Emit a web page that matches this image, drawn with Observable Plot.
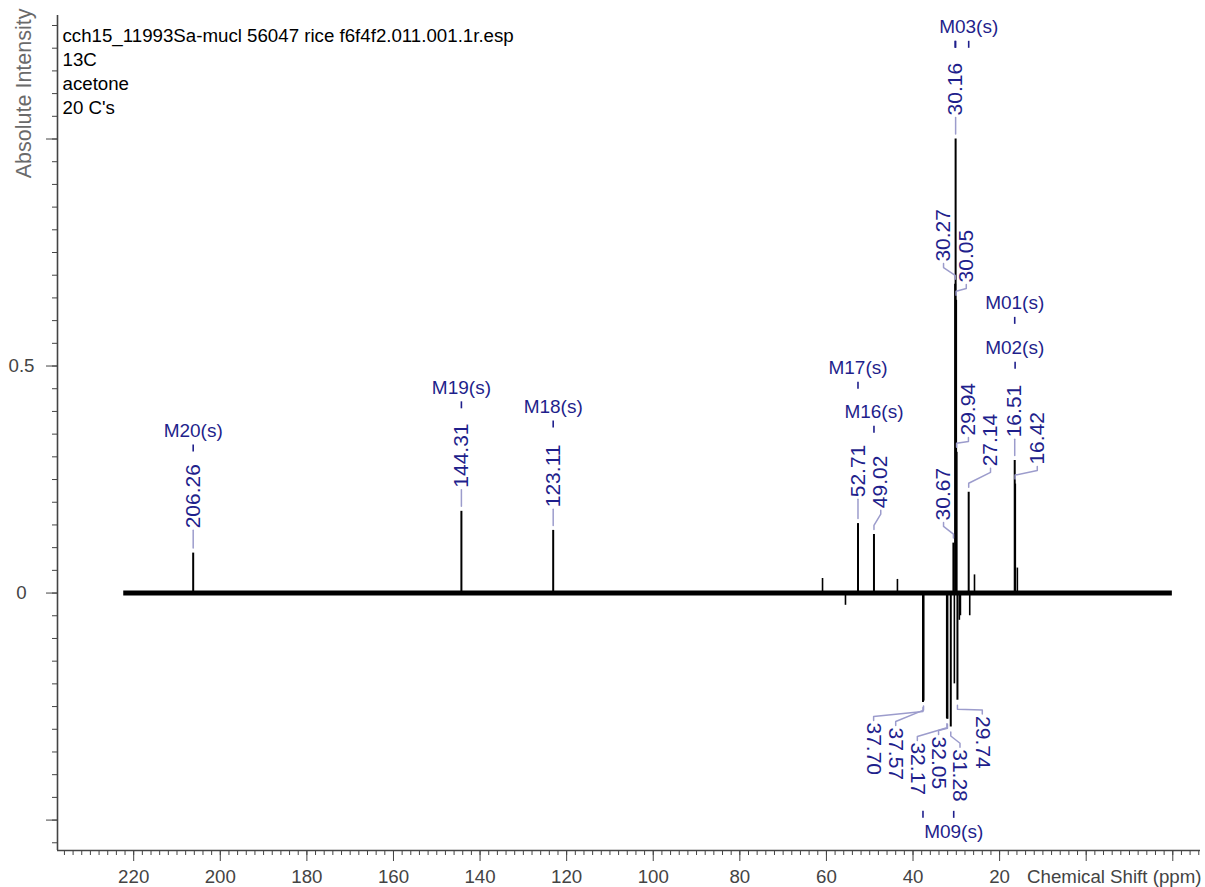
<!DOCTYPE html>
<html>
<head>
<meta charset="utf-8">
<script src="https://cdn.jsdelivr.net/npm/d3@7"></script>
<script src="https://cdn.jsdelivr.net/npm/@observablehq/plot@0.6"></script>
<style>
  html, body { margin: 0; padding: 0; background: #ffffff; }
</style>
</head>
<body>
<div id="chart"></div>
<script>
// ---------- text ----------
const titleLines = ["cch15_11993Sa-mucl 56047 rice f6f4f2.011.001.1r.esp", "13C", "acetone", "20 C's"];
const xLabel = "Chemical Shift (ppm)";
const yLabel = "Absolute Intensity";
const xTickLabels = [220, 200, 180, 160, 140, 120, 100, 80, 60, 40, 20];
const yTickLabels = [0, 0.5];

// ---------- labelled peaks (ppm, intensity) ----------
const peakPpm       = [206.26, 144.31, 123.11, 52.71, 49.02, 30.67, 30.27, 30.16, 30.05, 29.94, 27.14, 16.51, 16.42, 37.70, 37.57, 32.17, 32.05, 31.28, 29.74];
const peakIntensity = [0.088, 0.180, 0.138, 0.153, 0.129, 0.110, 0.680, 1.000, 0.645, 0.310, 0.222, 0.292, 0.240, -0.241, -0.238, -0.277, -0.278, -0.295, -0.236];
// where the software placed each peak label (ppm of the label, intensity level where the text starts)
const peakLabelPpm   = [206.26, 144.31, 123.11, 52.71, 47.45, 32.95, 32.95, 30.16, 27.70, 27.20, 22.10, 16.51, 11.30, 49.10, 44.00, 39.00, 34.10, 29.15, 24.00];
const peakLabelLevel = [0.1425, 0.232, 0.189, 0.211, 0.187, 0.160, 0.730, 1.052, 0.684, 0.347, 0.279, 0.343, 0.283, -0.285, -0.296, -0.329, -0.316, -0.344, -0.271];

// ---------- small unlabelled signals ----------
const minorPeakPpm       = [60.9, 55.6, 43.6, 30.45, 29.30, 29.05, 26.9, 25.8, 15.9];
const minorPeakIntensity = [0.032, -0.027, 0.030, -0.200, -0.060, -0.050, -0.050, 0.040, 0.055];

// ---------- multiplet labels ----------
const multipletNames    = ["M20(s)", "M19(s)", "M18(s)", "M17(s)", "M16(s)", "M01(s)", "M02(s)", "M03(s)", "M09(s)"];
const multipletPpm      = [206.26, 144.31, 123.11, 52.71, 49.02, 16.51, 16.51, 27.14, 30.60];
const multipletLevel    = [0.357, 0.452, 0.410, 0.495, 0.398, 0.638, 0.539, 1.246, -0.527];
const multipletTickPpm  = [[206.26], [144.31], [123.11], [52.71], [49.02], [16.51], [16.42], [30.27, 30.16, 27.14], [37.70, 30.60]];

// spectrum extent (ppm)
const spectrumRange = [222.3, -19.9];

// ---------- layout ----------
const W = 1205, H = 887, mL = 57, mR = 5, mT = 15, mB = 37;
const xDomain = [237.6, -26.4];
const yDomain = [-0.567, 1.272];
const kY = (yDomain[1] - yDomain[0]) / (H - mT - mB); // data units per pixel

const FONT = "'Liberation Sans', Arial, Helvetica, sans-serif";
const axisColor = "#444444";
const labelBlue = "#1f1f8c";
const leaderColor = "#9c9ccc";

const peaks = peakPpm.map((ppm, i) => ({
  ppm, intensity: peakIntensity[i], label: ppm.toFixed(2),
  labelPpm: peakLabelPpm[i], labelLevel: peakLabelLevel[i]
}));
const minorPeaks = minorPeakPpm.map((ppm, i) => ({ppm, intensity: minorPeakIntensity[i]}));

// leader lines (peak -> label)
const leaders = [];
peaks.forEach((p, i) => {
  const s = Math.sign(p.intensity);
  const a = p.intensity + s * 5 * kY, b = p.intensity + s * 9 * kY;
  const c = p.labelLevel - s * 6 * kY, d = p.labelLevel - s * 2 * kY;
  let pts;
  if (Math.abs(p.labelPpm - p.ppm) < 0.3) pts = [[p.ppm, a], [p.labelPpm, d]];
  else if (s * (c - b) <= 0) pts = [[p.ppm, a], [p.labelPpm, d]];
  else pts = [[p.ppm, a], [p.ppm, b], [p.labelPpm, c], [p.labelPpm, d]];
  pts.forEach(([x, y]) => leaders.push({id: i, x, y}));
});

const multiplets = multipletNames.map((name, i) => ({name, ppm: multipletPpm[i], level: multipletLevel[i]}));
const multipletTicks = [];
multiplets.forEach((m, i) => {
  const s = m.level > 0 ? 1 : -1;
  multipletTickPpm[i].forEach(t => multipletTicks.push({
    x: t, y1: m.level - s * 14 * kY, y2: m.level - s * 21 * kY
  }));
});

const xMajor = d3.range(220, -21, -20);
const xMinor = d3.range(236, -27, -2);
const yMajor = [-0.5, 0, 0.5, 1];
const yMinor = d3.range(-11, 26).map(k => +(k * 0.05).toFixed(2));

const chart = Plot.plot({
  width: W, height: H,
  marginLeft: mL, marginRight: mR, marginTop: mT, marginBottom: mB,
  x: {domain: xDomain},
  y: {domain: yDomain},
  style: {fontFamily: FONT, fontSize: "18.7px", color: axisColor, background: "#ffffff", overflow: "visible"},
  marks: [
    // axes
    Plot.axisX({ticks: xMinor, tickSize: 5, tickFormat: () => "", stroke: axisColor}),
    Plot.axisX({ticks: xMajor, tickSize: 11, tickPadding: 8.7, stroke: axisColor, fill: axisColor,
      tickFormat: d => xTickLabels.includes(d) ? String(d) : "", fontSize: 18.7}),
    Plot.axisY({ticks: yMinor, tickSize: 5, tickFormat: () => "", stroke: axisColor}),
    Plot.axisY({ticks: yMajor, tickSize: 11, tickPadding: 25, textAnchor: "middle", stroke: axisColor, fill: axisColor,
      tickFormat: d => yTickLabels.includes(d) ? String(d) : "", fontSize: 18.7}),
    Plot.ruleY([yDomain[0]], {stroke: axisColor, strokeWidth: 1.6}),
    Plot.ruleX([xDomain[0]], {stroke: axisColor, strokeWidth: 1.6}),

    // axis titles and header text
    Plot.text([xLabel], {frameAnchor: "bottom-right", textAnchor: "end", lineAnchor: "top", dx: 1, dy: 19.7, fill: axisColor, fontSize: 18.7}),
    Plot.text([yLabel], {frameAnchor: "top-left", rotate: -90, textAnchor: "end", lineAnchor: "middle", dx: -33, dy: -7, fill: "#6a6a6a", fontSize: 21.5}),
    Plot.text([titleLines.join("\n")], {frameAnchor: "top-left", textAnchor: "start", lineAnchor: "top", lineHeight: 1.29, dx: 5, dy: 9, fill: "#000000", fontSize: 18.7}),

    // spectrum
    Plot.ruleY([0], {x1: spectrumRange[0], x2: spectrumRange[1], stroke: "#000", strokeWidth: 5}),
    Plot.ruleX(minorPeaks, {x: "ppm", y1: 0, y2: "intensity", stroke: "#000", strokeWidth: 1.6}),
    Plot.ruleX(peaks, {x: "ppm", y1: 0, y2: "intensity", stroke: "#000", strokeWidth: 2}),

    // peak labels
    Plot.line(leaders, {x: "x", y: "y", z: "id", stroke: leaderColor, strokeWidth: 1.5}),
    Plot.text(peaks.filter(p => p.intensity > 0), {x: "labelPpm", y: "labelLevel", text: "label", rotate: -90,
      textAnchor: "start", lineAnchor: "middle", fill: labelBlue, fontSize: 21}),
    Plot.text(peaks.filter(p => p.intensity < 0), {x: "labelPpm", y: "labelLevel", text: "label", rotate: 90,
      textAnchor: "start", lineAnchor: "middle", fill: labelBlue, fontSize: 21}),

    // multiplet labels
    Plot.ruleX(multipletTicks, {x: "x", y1: "y1", y2: "y2", stroke: labelBlue, strokeWidth: 1.6}),
    Plot.text(multiplets, {x: "ppm", y: "level", text: "name", textAnchor: "middle", lineAnchor: "middle", fill: labelBlue, fontSize: 19})
  ]
});
document.getElementById("chart").appendChild(chart);
</script>
</body>
</html>
